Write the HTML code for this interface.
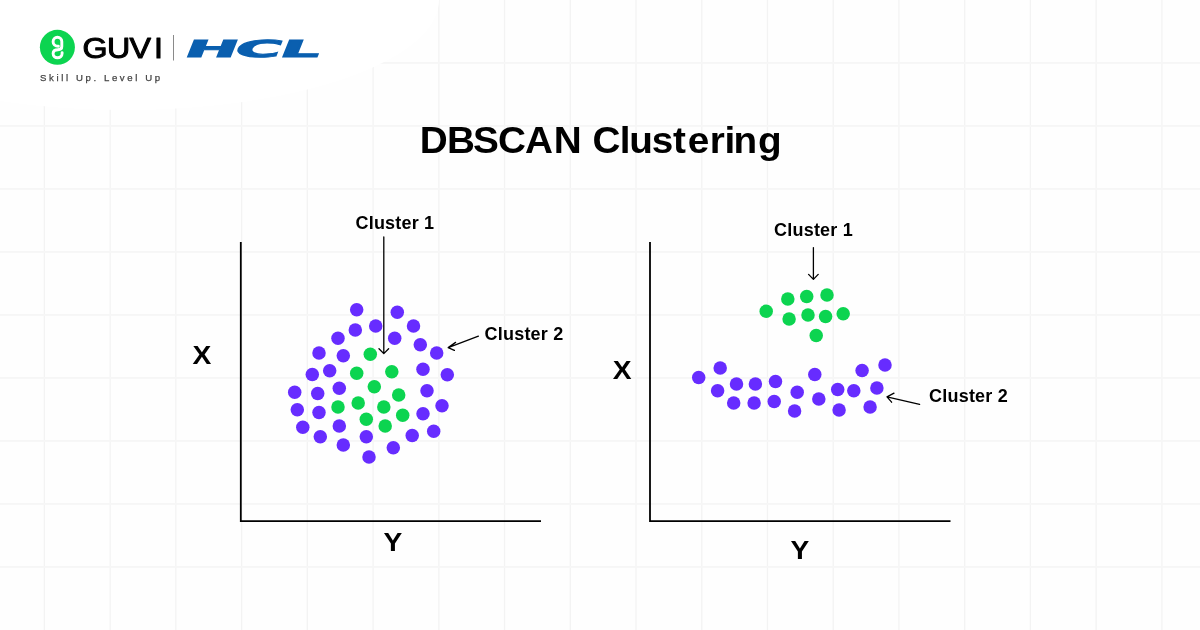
<!DOCTYPE html>
<html lang="en">
<head>
<meta charset="utf-8">
<title>DBSCAN Clustering</title>
<style>
html,body{margin:0;padding:0;background:#fff;}
body{width:1200px;height:630px;overflow:hidden;position:relative;font-family:"Liberation Sans",sans-serif;}
svg{position:absolute;left:0;top:0;display:block;}
text{font-family:"Liberation Sans",sans-serif;}
.b{font-weight:700;fill:#000;}
</style>
</head>
<body>
<svg width="1200" height="630" viewBox="0 0 1200 630">
<rect width="1200" height="630" fill="#fefefe"/>
<g fill="#f6f6f6"><rect x="43.75" y="0" width="1.3" height="630" fill="#f3f3f3"/><rect x="109.48" y="0" width="1.3" height="630" fill="#f3f3f3"/><rect x="175.22" y="0" width="1.3" height="630" fill="#f3f3f3"/><rect x="240.95" y="0" width="1.3" height="630" fill="#f3f3f3"/><rect x="306.69" y="0" width="1.3" height="630" fill="#f3f3f3"/><rect x="372.43" y="0" width="1.3" height="630" fill="#f3f3f3"/><rect x="438.16" y="0" width="1.3" height="630" fill="#f3f3f3"/><rect x="503.89" y="0" width="1.3" height="630" fill="#f3f3f3"/><rect x="569.63" y="0" width="1.3" height="630" fill="#f3f3f3"/><rect x="635.37" y="0" width="1.3" height="630" fill="#f3f3f3"/><rect x="701.10" y="0" width="1.3" height="630" fill="#f3f3f3"/><rect x="766.84" y="0" width="1.3" height="630" fill="#f3f3f3"/><rect x="832.57" y="0" width="1.3" height="630" fill="#f3f3f3"/><rect x="898.30" y="0" width="1.3" height="630" fill="#f3f3f3"/><rect x="964.04" y="0" width="1.3" height="630" fill="#f3f3f3"/><rect x="1029.77" y="0" width="1.3" height="630" fill="#f3f3f3"/><rect x="1095.51" y="0" width="1.3" height="630" fill="#f3f3f3"/><rect x="1161.24" y="0" width="1.3" height="630" fill="#f3f3f3"/><rect x="0" y="62.05" width="1200" height="1.8"/><rect x="0" y="125.05" width="1200" height="1.8"/><rect x="0" y="188.05" width="1200" height="1.8"/><rect x="0" y="251.05" width="1200" height="1.8"/><rect x="0" y="314.05" width="1200" height="1.8"/><rect x="0" y="377.05" width="1200" height="1.8"/><rect x="0" y="440.05" width="1200" height="1.8"/><rect x="0" y="503.05" width="1200" height="1.8"/><rect x="0" y="566.05" width="1200" height="1.8"/></g>
<ellipse cx="125" cy="0" rx="314" ry="110" fill="#ffffff"/>

<!-- logo -->
<circle cx="57.4" cy="47.3" r="17.5" fill="#0CD450"/>
<path d="M58.4 46.3 C55 46.3 53.1 44.2 53.1 41.7 C53.1 39 55 37.2 57.4 37.2 C60 37.2 61.8 39 61.8 41.6 L61.8 46.5 C61.8 48.6 60.5 49.7 58 49.7 C55 49.7 53.1 51.2 53.1 53.6 C53.1 56 55 57.8 57.5 57.8 C60 57.8 62.1 56 62.1 53.6 L62.1 52.6" fill="none" stroke="#fff" stroke-width="2.9" stroke-linecap="round" stroke-linejoin="round"/>
<text id="guvi" transform="scale(1.06 1)" x="77.92 100.94 122.26 145.38" y="58.4" font-size="30.4" fill="#000" stroke="#000" stroke-width="1.05" stroke-linejoin="round">GUVI</text>
<rect x="173" y="35" width="1" height="25.5" fill="#8a8a8a"/>
<g id="hclg" fill="#0A5FAF" stroke="#0A5FAF" stroke-width="1" stroke-linejoin="miter" font-family="'DejaVu Sans','Liberation Sans',sans-serif" font-weight="700" font-size="23.2">
<text id="hcl" transform="translate(182.4 56.7) skewX(-22) scale(2.72 1)" x="0 18.4 35.1" y="0" style="font-family:'DejaVu Sans','Liberation Sans',sans-serif">HCL</text></g>
<text id="tag" x="40.1" y="80.9" font-size="9.6" fill="#444" stroke="#444" stroke-width="0.25" letter-spacing="2.6">Skill Up. Level Up</text>

<!-- title -->
<text id="title" class="b" transform="scale(1.03 1)" x="407.43 433.94 459.19 483.46 509.67 537.52 566.65 575.15 601.7 611.02 632.77 653.45 667.77 689.03 703.35 712.04 735.83" y="153.2" font-size="37.6">DBSCAN Clustering</text>

<!-- left chart -->
<polyline points="240.8,242 240.8,521.1 541,521.1" fill="none" stroke="#000" stroke-width="1.8"/>
<text id="lx" class="b" transform="translate(202.0 364.0) scale(1.06 1)" x="0" y="0" font-size="26.6" text-anchor="middle">X</text>
<text id="ly" class="b" transform="translate(392.8 550.6) scale(1.06 1)" x="0" y="0" font-size="26.6" text-anchor="middle">Y</text>
<circle cx="356.7" cy="309.8" r="6.75" fill="#672CFF"/>
<circle cx="397.3" cy="312.3" r="6.75" fill="#672CFF"/>
<circle cx="375.7" cy="326" r="6.75" fill="#672CFF"/>
<circle cx="413.5" cy="326" r="6.75" fill="#672CFF"/>
<circle cx="355.3" cy="330" r="6.75" fill="#672CFF"/>
<circle cx="338" cy="338.2" r="6.75" fill="#672CFF"/>
<circle cx="394.7" cy="338.2" r="6.75" fill="#672CFF"/>
<circle cx="420.3" cy="344.8" r="6.75" fill="#672CFF"/>
<circle cx="319" cy="353" r="6.75" fill="#672CFF"/>
<circle cx="343.3" cy="355.7" r="6.75" fill="#672CFF"/>
<circle cx="436.7" cy="353" r="6.75" fill="#672CFF"/>
<circle cx="329.7" cy="370.7" r="6.75" fill="#672CFF"/>
<circle cx="312.3" cy="374.6" r="6.75" fill="#672CFF"/>
<circle cx="423" cy="369.3" r="6.75" fill="#672CFF"/>
<circle cx="447.3" cy="374.7" r="6.75" fill="#672CFF"/>
<circle cx="294.7" cy="392.2" r="6.75" fill="#672CFF"/>
<circle cx="317.7" cy="393.5" r="6.75" fill="#672CFF"/>
<circle cx="339.3" cy="388.2" r="6.75" fill="#672CFF"/>
<circle cx="427" cy="390.8" r="6.75" fill="#672CFF"/>
<circle cx="442" cy="405.7" r="6.75" fill="#672CFF"/>
<circle cx="297.3" cy="409.8" r="6.75" fill="#672CFF"/>
<circle cx="319" cy="412.5" r="6.75" fill="#672CFF"/>
<circle cx="423" cy="413.8" r="6.75" fill="#672CFF"/>
<circle cx="302.8" cy="427.3" r="6.75" fill="#672CFF"/>
<circle cx="339.3" cy="426" r="6.75" fill="#672CFF"/>
<circle cx="320.3" cy="436.8" r="6.75" fill="#672CFF"/>
<circle cx="433.7" cy="431.3" r="6.75" fill="#672CFF"/>
<circle cx="412.2" cy="435.5" r="6.75" fill="#672CFF"/>
<circle cx="366.3" cy="436.8" r="6.75" fill="#672CFF"/>
<circle cx="343.3" cy="445" r="6.75" fill="#672CFF"/>
<circle cx="393.3" cy="447.7" r="6.75" fill="#672CFF"/>
<circle cx="369" cy="457" r="6.75" fill="#672CFF"/>
<circle cx="370.3" cy="354.3" r="6.75" fill="#0CD450"/>
<circle cx="356.7" cy="373.2" r="6.75" fill="#0CD450"/>
<circle cx="391.8" cy="371.8" r="6.75" fill="#0CD450"/>
<circle cx="374.3" cy="386.8" r="6.75" fill="#0CD450"/>
<circle cx="398.7" cy="395" r="6.75" fill="#0CD450"/>
<circle cx="338" cy="407" r="6.75" fill="#0CD450"/>
<circle cx="358.2" cy="403" r="6.75" fill="#0CD450"/>
<circle cx="383.8" cy="407" r="6.75" fill="#0CD450"/>
<circle cx="402.7" cy="415.2" r="6.75" fill="#0CD450"/>
<circle cx="366.3" cy="419.2" r="6.75" fill="#0CD450"/>
<circle cx="385.2" cy="426" r="6.75" fill="#0CD450"/>
<text id="lc1" class="b" x="394.90000000000003" y="228.8" font-size="18" letter-spacing="0.2" text-anchor="middle">Cluster 1</text>
<path d="M383.8 237 L383.8 353.4 M379 348.8 L383.8 353.6 L388.6 348.8" fill="none" stroke="#000" stroke-width="1.3" stroke-linecap="round" stroke-linejoin="round"/>
<text id="lc2" class="b" x="524.0" y="339.8" font-size="18" letter-spacing="0.2" text-anchor="middle">Cluster 2</text>
<path d="M478.4 336.2 L448.2 347.6 M455.6 342.4 L448.2 347.6 L454.4 350.4" fill="none" stroke="#000" stroke-width="1.3" stroke-linecap="round" stroke-linejoin="round"/>

<!-- right chart -->
<polyline points="650,242 650,521.1 950.5,521.1" fill="none" stroke="#000" stroke-width="1.8"/>
<text id="rx" class="b" transform="translate(622.1 379.0) scale(1.06 1)" x="0" y="0" font-size="26.6" text-anchor="middle">X</text>
<text id="ry" class="b" transform="translate(799.8 558.5) scale(1.06 1)" x="0" y="0" font-size="26.6" text-anchor="middle">Y</text>
<circle cx="787.8" cy="299.0" r="6.75" fill="#0CD450"/>
<circle cx="806.7" cy="296.4" r="6.75" fill="#0CD450"/>
<circle cx="827.0" cy="294.9" r="6.75" fill="#0CD450"/>
<circle cx="766.2" cy="311.3" r="6.75" fill="#0CD450"/>
<circle cx="789.1" cy="319.1" r="6.75" fill="#0CD450"/>
<circle cx="808.0" cy="315.1" r="6.75" fill="#0CD450"/>
<circle cx="825.6" cy="316.6" r="6.75" fill="#0CD450"/>
<circle cx="843.2" cy="313.8" r="6.75" fill="#0CD450"/>
<circle cx="816.2" cy="335.5" r="6.75" fill="#0CD450"/>
<circle cx="698.7" cy="377.4" r="6.75" fill="#672CFF"/>
<circle cx="720.2" cy="367.9" r="6.75" fill="#672CFF"/>
<circle cx="717.6" cy="390.8" r="6.75" fill="#672CFF"/>
<circle cx="736.5" cy="384" r="6.75" fill="#672CFF"/>
<circle cx="755.4" cy="384" r="6.75" fill="#672CFF"/>
<circle cx="775.5" cy="381.4" r="6.75" fill="#672CFF"/>
<circle cx="733.7" cy="403.1" r="6.75" fill="#672CFF"/>
<circle cx="754.1" cy="403.1" r="6.75" fill="#672CFF"/>
<circle cx="774.2" cy="401.6" r="6.75" fill="#672CFF"/>
<circle cx="797.2" cy="392.3" r="6.75" fill="#672CFF"/>
<circle cx="794.6" cy="411.1" r="6.75" fill="#672CFF"/>
<circle cx="814.8" cy="374.5" r="6.75" fill="#672CFF"/>
<circle cx="818.8" cy="398.9" r="6.75" fill="#672CFF"/>
<circle cx="837.7" cy="389.5" r="6.75" fill="#672CFF"/>
<circle cx="839.1" cy="409.9" r="6.75" fill="#672CFF"/>
<circle cx="853.8" cy="390.8" r="6.75" fill="#672CFF"/>
<circle cx="862.1" cy="370.4" r="6.75" fill="#672CFF"/>
<circle cx="885" cy="365.1" r="6.75" fill="#672CFF"/>
<circle cx="876.9" cy="388" r="6.75" fill="#672CFF"/>
<circle cx="870.1" cy="407.1" r="6.75" fill="#672CFF"/>
<text id="rc1" class="b" x="813.5" y="235.8" font-size="18" letter-spacing="0.2" text-anchor="middle">Cluster 1</text>
<path d="M813.4 247.6 L813.4 279.2 M808.6 274.4 L813.4 279.4 L818.2 274.4" fill="none" stroke="#000" stroke-width="1.3" stroke-linecap="round" stroke-linejoin="round"/>
<text id="rc2" class="b" x="968.5" y="401.8" font-size="18" letter-spacing="0.2" text-anchor="middle">Cluster 2</text>
<path d="M919.6 404.4 L887 396.8 M894 393.2 L887 396.8 L891.6 402.2" fill="none" stroke="#000" stroke-width="1.3" stroke-linecap="round" stroke-linejoin="round"/>
</svg>
</body>
</html>
